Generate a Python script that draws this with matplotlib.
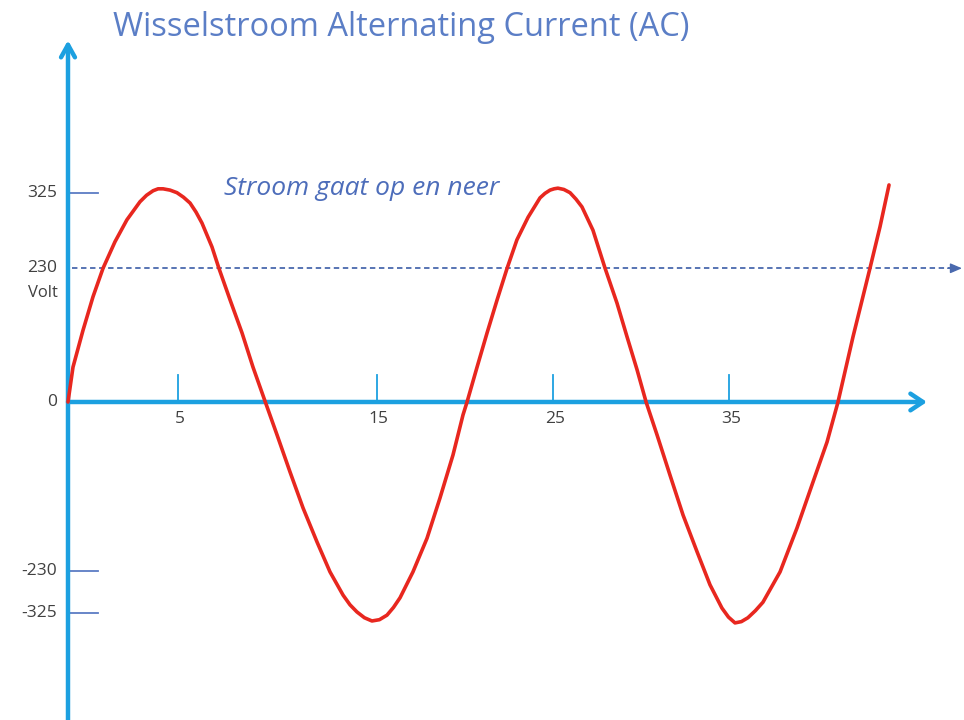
import matplotlib
matplotlib.use("Agg")
import matplotlib.pyplot as plt

# ---- data (time in ms, voltage in V) ----
time_ms = [0.0, 0.26, 0.78, 1.30, 1.82, 2.44, 3.06, 3.74, 4.08, 4.42, 4.68, 4.94, 5.30,
           5.66, 6.00, 6.34, 6.65, 6.96, 7.48, 7.84, 8.42, 9.04, 9.61, 10.25,
           10.86, 11.53, 12.21, 12.94, 13.61, 14.29, 14.65, 15.01, 15.40, 15.79, 16.18,
           16.57, 16.91, 17.25, 17.92, 18.65, 19.32, 20.00, 20.52, 20.73,
           21.25, 21.77, 22.29, 22.81, 23.32, 23.90, 24.52, 24.78, 25.04, 25.25, 25.45,
           25.76, 26.08, 26.39, 26.70, 27.27, 27.90, 28.52, 29.04, 29.56, 30.03,
           30.60, 31.27, 31.95, 32.68, 33.35, 33.97, 34.31, 34.65, 34.98, 35.32, 35.71,
           36.10, 36.99, 37.87, 38.70, 39.43, 40.00,
           40.78, 41.66, 42.18, 42.65]
voltage = [0, 54, 111, 163, 207, 248, 282, 310, 320, 327, 330, 330, 328,
           324, 317, 308, 294, 277, 240, 207, 158, 107, 54, 0,
           -51, -108, -164, -217, -263, -299, -314, -325, -334, -339, -337,
           -330, -318, -303, -263, -211, -149, -82, -20, 0,
           54, 107, 158, 207, 251, 286, 316, 323, 328, 330, 331,
           329, 324, 314, 302, 266, 207, 153, 101, 50, 0,
           -51, -113, -175, -232, -283, -319, -333, -342, -340, -334, -323,
           -310, -263, -195, -124, -62, 0,
           101, 207, 271, 336]

x_tick_pos = [5.71, 16.05, 25.19, 34.34]
x_tick_labels = ["5", "15", "25", "35"]
y_tick_pos = [324, 207, 0, -262, -327]
y_tick_labels = ["325", "230", "0", "-230", "-325"]
rms_level = 207          # the dotted 230 V line
title = "Wisselstroom Alternating Current (AC)"
note = "Stroom gaat op en neer"
y_unit = "Volt"

# ---- styling ----
AXIS_BLUE = "#1CA0E0"
TICK_BLUE = "#5C7CC4"
CURVE_RED = "#E8271F"
TITLE_BLUE = "#5B7EC6"
NOTE_BLUE = "#4D6DBA"
DOT_BLUE = "#4A69AE"
LABEL_GRAY = "#404040"
FONT = ["Open Sans", "DejaVu Sans"]

fig = plt.figure(figsize=(9.64, 7.2), dpi=100)
ax = fig.add_axes([0, 0, 1, 1])
XMIN, XMAX = -3.532, 46.545
YMIN, YMAX = -492.3, 622.3
ax.set_xlim(XMIN, XMAX)
ax.set_ylim(YMIN, YMAX)
ax.axis("off")

# axes with arrows
ax.annotate("", xy=(0, 560), xytext=(0, YMIN),
            arrowprops=dict(arrowstyle="->,head_length=0.9,head_width=0.5",
                            color=AXIS_BLUE, lw=3.2, shrinkA=0, shrinkB=0))
ax.annotate("", xy=(44.62, 0), xytext=(0, 0),
            arrowprops=dict(arrowstyle="->,head_length=0.9,head_width=0.6",
                            color=AXIS_BLUE, lw=3.2, shrinkA=0, shrinkB=0))

# dotted 230 V line
ax.plot([0.2, 45.9], [rms_level, rms_level], color=DOT_BLUE, lw=1.3,
        linestyle=(0, (3, 2)), zorder=2)
ax.annotate("", xy=(46.44, rms_level), xytext=(45.7, rms_level),
            arrowprops=dict(arrowstyle="-|>,head_length=0.7,head_width=0.3",
                            color=DOT_BLUE, lw=1.0, shrinkA=0, shrinkB=0))

# y tick marks (short horizontal lines)
for yp in [y_tick_pos[0], y_tick_pos[3], y_tick_pos[4]]:
    ax.plot([0.1, 1.55], [yp, yp], color=TICK_BLUE, lw=1.3, zorder=2)

# x tick marks (short vertical lines above the axis)
for xp in x_tick_pos:
    ax.plot([xp, xp], [3, 42], color=AXIS_BLUE, lw=1.3, zorder=2)

# sine curve
ax.plot(time_ms, voltage, color=CURVE_RED, lw=2.6, zorder=3,
        solid_joinstyle="round", solid_capstyle="round")

# y tick labels
for yp, lab in zip(y_tick_pos, y_tick_labels):
    ax.text(-0.55, yp, lab, ha="right", va="center", fontsize=12.5,
            color=LABEL_GRAY, family=FONT)
ax.text(-0.55, rms_level - 38, y_unit, ha="right", va="center", fontsize=12,
        color=LABEL_GRAY, family=FONT)

# x tick labels
for xp, lab in zip(x_tick_pos, x_tick_labels):
    ax.text(xp + 0.1, -27, lab, ha="center", va="center", fontsize=12.5,
            color=LABEL_GRAY, family=FONT)

# title and note
ax.text(2.35, 580, title, ha="left", va="center", fontsize=23.5,
        color=TITLE_BLUE, family=FONT)
ax.text(8.1, 331, note, ha="left", va="center", fontsize=19, style="italic",
        color=NOTE_BLUE, family=FONT)

fig.savefig("out.png", dpi=100)
